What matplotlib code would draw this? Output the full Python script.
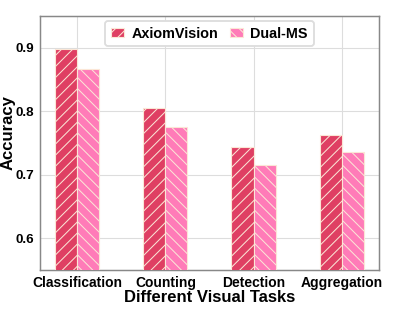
import numpy as np
import matplotlib
matplotlib.use("Agg")
import matplotlib.pyplot as plt

# data
tasks = ["Classification", "Counting", "Detection", "Aggregation"]
axiom_vision = [0.898, 0.805, 0.744, 0.763]
dual_ms = [0.866, 0.775, 0.715, 0.735]

plt.rcParams["font.family"] = ["Liberation Sans", "DejaVu Sans"]
plt.rcParams["font.weight"] = "bold"
plt.rcParams["hatch.color"] = "#FBE3D8"
plt.rcParams["hatch.linewidth"] = 0.55

# 3.0 x 2.4 in at 133 dpi -> 399 x 319 px
fig, ax = plt.subplots(figsize=(3.0, 2.4), dpi=133)

x = np.arange(len(tasks))
w = 0.25
ax.bar(x - w / 2, axiom_vision, w, color="#DF3F63", edgecolor="#FBE6D6",
       linewidth=0.6, hatch="////", label="AxiomVision", zorder=3)
ax.bar(x + w / 2, dual_ms, w, color="#FF7BB8", edgecolor="#FBE6D6",
       linewidth=0.6, hatch="\\\\\\\\", label="Dual-MS", zorder=3)

ax.set_ylim(0.55, 0.95)
ax.set_yticks([0.6, 0.7, 0.8, 0.9])
ax.set_xticks(x)
ax.set_xticklabels(tasks, fontsize=7.5, fontweight="bold")
ax.tick_params(axis="y", labelsize=7.3)
ax.tick_params(length=0, pad=3)
ax.grid(True, color="#DDDDDD", linewidth=0.6, zorder=0)
ax.set_axisbelow(True)
for s in ax.spines.values():
    s.set_color("#888888")
    s.set_linewidth(0.8)

ax.set_xlabel("Different Visual Tasks", fontsize=9, fontweight="bold", labelpad=0)
ax.set_ylabel("Accuracy", fontsize=9, fontweight="bold")
ax.yaxis.set_label_coords(-0.073, 0.54)
ax.legend(loc="upper center", ncol=2, prop={"weight": "bold", "size": 7.8},
          handlelength=0.9, handleheight=0.6, handletextpad=0.5,
          columnspacing=0.85, borderaxespad=0.35, framealpha=1,
          edgecolor="#DDDDDD")

fig.subplots_adjust(left=0.10, right=0.95, top=0.95, bottom=0.154)
fig.savefig("out.png", dpi=133)
